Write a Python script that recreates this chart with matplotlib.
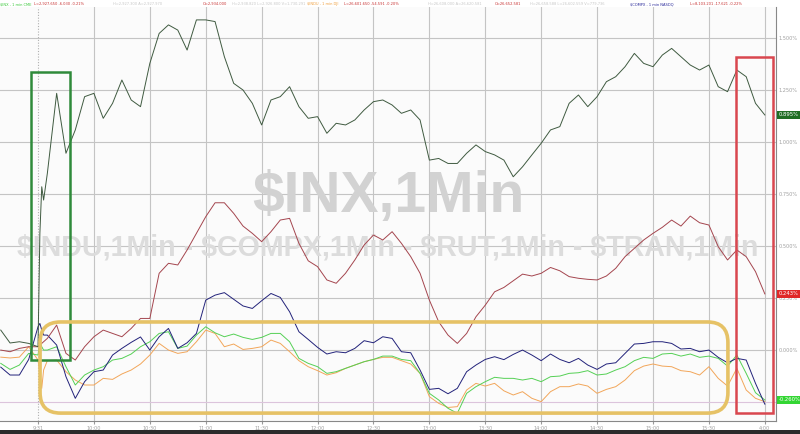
import matplotlib
matplotlib.use("Agg")
import matplotlib.pyplot as plt
from matplotlib.patches import Rectangle, FancyBboxPatch

# minutes from the 9:30 open (negatives = tail of prior session)
minutes = [-20, -15, -10, -5, 0, 1, 2, 3,
           5, 10, 15, 20, 25, 30, 35, 40, 45, 50, 55, 60, 65, 70, 75, 80, 85, 90,
           95, 100, 105, 110, 115, 120, 125, 130, 135, 140, 145, 150, 155, 160,
           165, 170, 175, 180, 185, 190, 195, 200, 205, 210, 215, 220, 225, 230,
           235, 240, 245, 250, 255, 260, 265, 270, 275, 280, 285, 290, 295, 300,
           305, 310, 315, 320, 325, 330, 335, 340, 345, 350, 355, 360, 365, 370,
           375, 380, 385, 390]

# % change
spx = [0.096, 0.034, 0.040, 0.032, 0.016, 0.561, 0.785, 0.721,
       0.849, 1.234, 0.946, 1.058, 1.218, 1.234, 1.114, 1.186, 1.298, 1.202, 1.170, 1.378,
       1.522, 1.563, 1.538, 1.442, 1.587, 1.587, 1.579, 1.410, 1.282, 1.250, 1.186, 1.082,
       1.202, 1.218, 1.266, 1.170, 1.114, 1.122, 1.042, 1.090, 1.082, 1.106, 1.154, 1.194,
       1.202, 1.178, 1.138, 1.154, 1.106, 0.913, 0.921, 0.897, 0.897, 0.946, 0.986, 0.954,
       0.938, 0.913, 0.833, 0.881, 0.938, 0.994, 1.058, 1.074, 1.186, 1.226, 1.170, 1.218,
       1.290, 1.314, 1.362, 1.426, 1.378, 1.362, 1.418, 1.450, 1.410, 1.370, 1.346, 1.370,
       1.266, 1.242, 1.346, 1.314, 1.186, 1.130]

indu = [0.000, -0.008, 0.008, 0.016, 0.016, 0.024, 0.032, 0.040,
        0.056, 0.120, -0.016, -0.048, 0.016, 0.064, 0.096, 0.080, 0.064, 0.104, 0.152, 0.152,
        0.369, 0.417, 0.409, 0.481, 0.561, 0.641, 0.708, 0.708, 0.657, 0.596, 0.561, 0.521,
        0.569, 0.625, 0.633, 0.513, 0.429, 0.401, 0.337, 0.321, 0.369, 0.433, 0.505, 0.553,
        0.529, 0.569, 0.513, 0.449, 0.369, 0.240, 0.136, 0.072, 0.032, 0.080, 0.160, 0.216,
        0.280, 0.301, 0.333, 0.365, 0.356, 0.369, 0.397, 0.381, 0.353, 0.345, 0.340, 0.337,
        0.356, 0.393, 0.449, 0.489, 0.529, 0.561, 0.590, 0.625, 0.596, 0.644, 0.612, 0.601,
        0.497, 0.433, 0.481, 0.449, 0.377, 0.270]

compx = [-0.082, -0.120, -0.120, -0.045, 0.112, 0.128, 0.096, 0.072,
         0.072, 0.024, -0.128, -0.232, -0.152, -0.104, -0.096, -0.024, 0.008, 0.037, 0.063, 0.000,
         0.064, 0.104, 0.008, 0.035, 0.080, 0.240, 0.264, 0.276, 0.244, 0.212, 0.200, 0.237,
         0.272, 0.253, 0.184, 0.088, 0.051, 0.013, -0.019, -0.008, -0.013, 0.008, 0.045, 0.035,
         0.064, 0.056, -0.008, -0.013, -0.096, -0.189, -0.184, -0.210, -0.184, -0.104, -0.072, -0.045,
         -0.032, -0.046, -0.021, 0.000, -0.024, -0.051, -0.019, -0.045, -0.061, -0.040, -0.072, -0.093,
         -0.067, -0.061, -0.016, 0.029, 0.032, 0.040, 0.040, 0.032, 0.005, 0.008, -0.008, 0.000,
         -0.035, -0.061, -0.040, -0.048, -0.160, -0.260]

rut = [-0.064, -0.093, -0.072, -0.016, -0.024, 0.040, 0.016, 0.000,
       0.000, 0.016, -0.080, -0.168, -0.120, -0.096, -0.080, -0.048, -0.040, -0.019, 0.016, 0.040,
       0.080, 0.088, 0.008, 0.019, 0.072, 0.112, 0.083, 0.064, 0.077, 0.061, 0.051, 0.061,
       0.080, 0.080, 0.040, -0.040, -0.064, -0.080, -0.112, -0.104, -0.088, -0.072, -0.056, -0.045,
       -0.029, -0.029, -0.045, -0.051, -0.112, -0.208, -0.240, -0.280, -0.304, -0.208, -0.176, -0.152,
       -0.131, -0.136, -0.136, -0.144, -0.136, -0.152, -0.128, -0.125, -0.112, -0.109, -0.099, -0.120,
       -0.115, -0.096, -0.080, -0.051, -0.035, -0.040, -0.019, -0.016, -0.029, -0.019, -0.035, -0.029,
       -0.040, -0.077, -0.024, -0.112, -0.205, -0.240]

tran = [-0.034, -0.038, -0.034, 0.016, -0.048, -0.112, -0.184, -0.096,
        -0.051, -0.048, -0.104, -0.144, -0.168, -0.168, -0.136, -0.141, -0.115, -0.096, -0.067, -0.024,
        0.032, 0.000, -0.016, -0.008, 0.040, 0.096, 0.080, 0.016, 0.029, 0.003, 0.008, 0.016,
        0.048, 0.032, -0.008, -0.051, -0.080, -0.099, -0.120, -0.109, -0.088, -0.072, -0.056, -0.045,
        -0.035, -0.035, -0.051, -0.067, -0.112, -0.224, -0.256, -0.276, -0.272, -0.192, -0.160, -0.173,
        -0.160, -0.196, -0.216, -0.200, -0.232, -0.248, -0.200, -0.176, -0.176, -0.163, -0.173, -0.208,
        -0.189, -0.176, -0.144, -0.099, -0.077, -0.067, -0.077, -0.080, -0.099, -0.104, -0.120, -0.080,
        -0.136, -0.173, -0.088, -0.192, -0.232, -0.248]

tick_min = [0, 30, 60, 90, 120, 150, 180, 210, 240, 270, 300, 330, 360, 390]
tick_lbl = ['9:31', '10:00', '10:30', '11:00', '11:30', '12:00', '12:30',
            '13:00', '13:30', '14:00', '14:30', '15:00', '15:30', '4:00']
y_ticks = [1.5, 1.25, 1.0, 0.75, 0.5, 0.25, 0.0, -0.25]

fig = plt.figure(figsize=(8, 4.34), dpi=100)
fig.patch.set_facecolor('white')
ax = fig.add_axes([0, 13/434, 776/800, 414/434])
ax.set_facecolor('#fbfbfb')
ax.set_xlim(-20.4, 396)
ax.set_ylim(-0.341, 1.649)

# grid
for t in tick_min[1:]:
    ax.axvline(t, color='#c4c4c4', lw=0.8, zorder=1)
ax.axvline(0, color='#b0b0b0', lw=0.8, ls=(0, (1, 1.5)), zorder=1)
for v in y_ticks:
    c = '#dcc4dc' if v < 0 else '#c4c4c4'
    ax.axhline(v, color=c, lw=0.8, zorder=1)

# watermarks
ax.text(0.485, 0.546, '$INX,1Min', transform=fig.transFigure, ha='center', va='center',
        fontsize=41, fontweight='bold', family='Liberation Sans', color='#d2d2d2',
        zorder=1.5, parse_math=False)
ax.text(0.485, 0.429, '$INDU,1Min - $COMPX,1Min - $RUT,1Min - $TRAN,1Min',
        transform=fig.transFigure, ha='center', va='center', fontsize=20.6,
        fontweight='bold', family='Liberation Sans', color='#dcdcdc', zorder=1.5,
        parse_math=False)

ax.plot(minutes, tran, color='#f2a65a', lw=0.7, zorder=3)
ax.plot(minutes, rut, color='#55d055', lw=0.7, zorder=3)
ax.plot(minutes, compx, color='#22227a', lw=0.7, zorder=3)
ax.plot(minutes, indu, color='#a4454e', lw=0.7, zorder=3)
ax.plot(minutes, spx, color='#3f5a40', lw=0.7, zorder=3)

# highlight boxes
ax.add_patch(Rectangle((-3.8, -0.048), 21.0, 1.385, fill=False, ec='#2f8a3a', lw=1.8, zorder=4))
ax.add_patch(Rectangle((374.5, -0.303), 19.8, 1.712, fill=False, ec='#d9474f', lw=1.8, zorder=4))
ax.add_patch(FancyBboxPatch((1.1, -0.303), 369.1, 0.438,
                            boxstyle='round,pad=0,rounding_size=11',
                            mutation_aspect=0.00896, fill=False, ec='#e6c266', lw=2.6, zorder=4))

# axes styling
for s in ['left', 'top']:
    ax.spines[s].set_visible(False)
ax.spines['right'].set_color('#888888')
ax.spines['bottom'].set_color('#888888')
ax.spines['right'].set_linewidth(0.8)
ax.spines['bottom'].set_linewidth(0.8)
ax.yaxis.tick_right()
ax.set_yticks(y_ticks)
ax.set_yticklabels(['%.3f%%' % v for v in y_ticks])
ax.set_xticks(tick_min)
ax.set_xticklabels(tick_lbl)
ax.tick_params(axis='y', length=0, pad=2, labelsize=3.6, labelcolor='#a0a0a0')
ax.tick_params(axis='x', length=2, pad=1.5, labelsize=3.6, labelcolor='#a0a0a0', color='#999999')

# last value tags
for val, txt, bg in [(spx[-1], '0.895%', '#1f6e23'), (indu[-1], '0.243%', '#e02828'),
                     (rut[-1], '-0.260%', '#33d633')]:
    ax.annotate(txt, xy=(1.0, val), xycoords=('axes fraction', 'data'),
                xytext=(2, 0), textcoords='offset points', ha='left', va='center',
                fontsize=3.8, color='white', annotation_clip=False, zorder=6,
                bbox=dict(boxstyle='square,pad=0.35', fc=bg, ec='none'))

# header quote strip
hdr = [(0, '$INX - 1 min CME', '#3cc83c'),
       (34, 'L=2,927.650 -6.030 -0.21%', '#c83232'),
       (113, 'H=2,927.300 A=2,927.970', '#c8c8c8'),
       (203, 'O=2,934.000', '#c83232'),
       (232, 'H=2,938.820 L=2,926.800 V=1,730,291', '#c8c8c8'),
       (307, '$INDU - 1 min DJI', '#f0a040'),
       (344, 'L=26,601.650 -54.591 -0.20%', '#c83232'),
       (428, 'H=26,608.000 A=26,620.581', '#c8c8c8'),
       (495, 'O=26,652.581', '#c83232'),
       (530, 'H=26,658.588 L=26,602.559 V=779,736', '#c8c8c8'),
       (630, '$COMPX - 1 min NASDQ', '#2a2a9a'),
       (690, 'L=8,103.201 -17.621 -0.22%', '#c83232')]
for x, txt, c in hdr:
    fig.text(x/800, 1 - 4/434, txt, fontsize=2.6, color=c, ha='left', va='center',
             parse_math=False)

fig.patches.append(Rectangle((0, 0), 1, 4/434, transform=fig.transFigure,
                             fc='#2b2b2b', ec='none'))

fig.savefig('out.png', dpi=100)
